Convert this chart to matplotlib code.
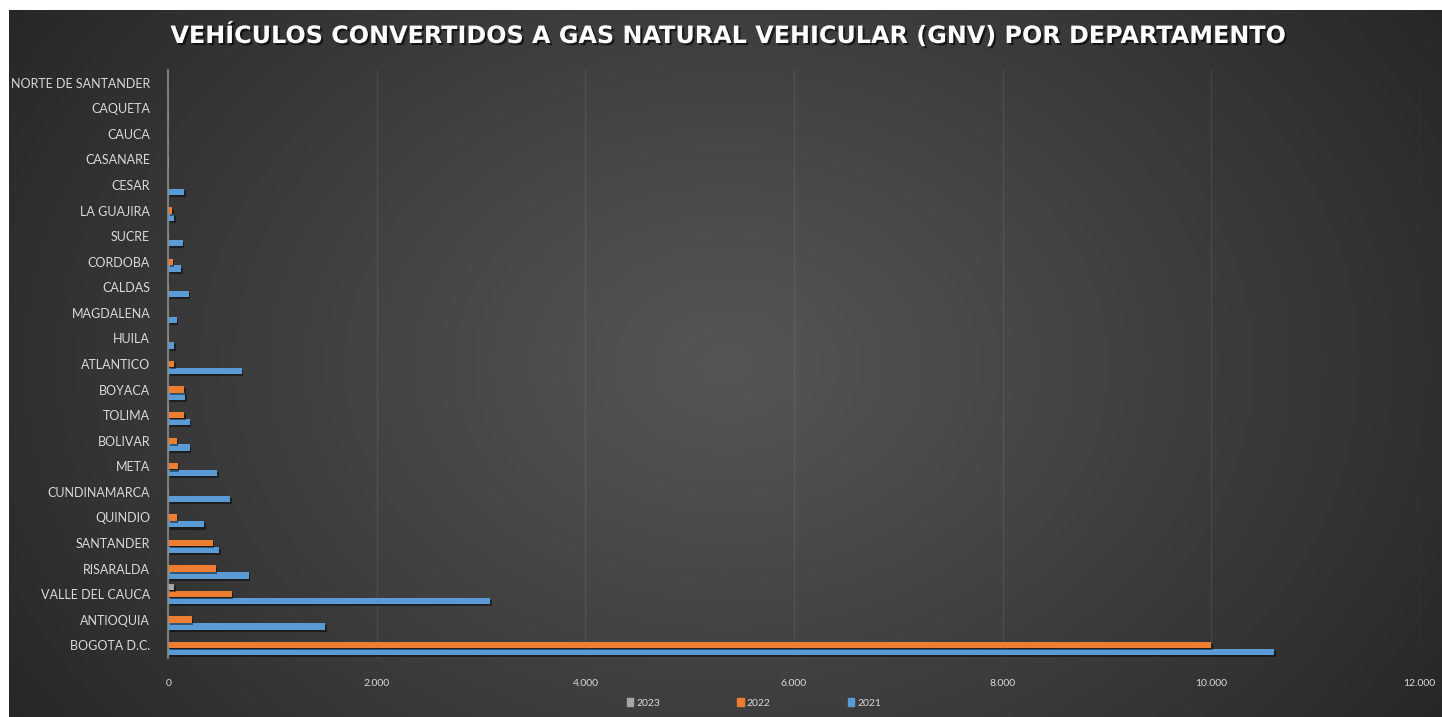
import numpy as np
import matplotlib
matplotlib.use("Agg")
import matplotlib.pyplot as plt
import matplotlib.patheffects as pe
from matplotlib.patches import Patch
from matplotlib.ticker import FuncFormatter

# ---- data (bottom to top as drawn) ----
categories = ["BOGOTA D.C.", "ANTIOQUIA", "VALLE DEL CAUCA", "RISARALDA", "SANTANDER",
              "QUINDIO", "CUNDINAMARCA", "META", "BOLIVAR", "TOLIMA", "BOYACA",
              "ATLANTICO", "HUILA", "MAGDALENA", "CALDAS", "CORDOBA", "SUCRE",
              "LA GUAJIRA", "CESAR", "CASANARE", "CAUCA", "CAQUETA", "NORTE DE SANTANDER"]
v2021 = [10605, 1504, 3087, 772, 487, 343, 595, 470, 205, 205, 163,
         704, 55, 80, 196, 122, 138, 55, 150, 3, 3, 3, 0]
v2022 = [10000, 225, 608, 455, 426, 80, 5, 90, 80, 150, 150,
         55, 4, 4, 5, 42, 5, 35, 5, 5, 0, 0, 0]
v2023 = [0, 0, 55, 0, 0, 0, 0, 0, 0, 3, 0,
         0, 0, 0, 0, 0, 0, 0, 0, 0, 0, 0, 0]
series_names = ["2023", "2022", "2021"]
xticks = [0, 2000, 4000, 6000, 8000, 10000, 12000]

C21, C22, C23 = "#5B9BD5", "#ED7D31", "#A5A5A5"
LABEL_FONT = ["Lato", "DejaVu Sans"]
W, H = 1442, 717
fig = plt.figure(figsize=(W / 100, H / 100), dpi=100, facecolor="white")

# background radial gradient
bg = fig.add_axes([9 / W, 0, 1 - 9 / W, (H - 10) / H])
bg.set_axis_off()
ny, nx = 300, 600
yy, xx = np.mgrid[0:ny, 0:nx]
cx, cy = nx * 0.50, ny * 0.50
r = np.sqrt(((xx - cx) / (nx * 0.62)) ** 2 + ((yy - cy) / (ny * 0.95)) ** 2)
r = np.clip(r, 0, 1)
inner, outer = 0x55, 0x25
val = (inner + (outer - inner) * r ** 1.1) / 255.0
img = np.dstack([val, val, val])
bg.imshow(img, aspect="auto", extent=[0, 1, 0, 1], interpolation="bilinear")
bg.set_xlim(0, 1); bg.set_ylim(0, 1)

ax = fig.add_axes([168.3 / W, 59 / H, 1251.4 / W, 588 / H])
ax.set_facecolor("none")
y = np.arange(len(categories))
h = 0.25
off = 0.27
shadow = [pe.withSimplePatchShadow(offset=(1.2, -1.5), shadow_rgbFace="black", alpha=0.45)]
ax.barh(y - off, v2021, height=h, color=C21, path_effects=shadow, zorder=3)
ax.barh(y, v2022, height=h, color=C22, path_effects=shadow, zorder=3)
ax.barh(y + off, v2023, height=h, color=C23, path_effects=shadow, zorder=3)

ax.set_ylim(-0.5, len(categories) - 0.5)
ax.set_xlim(0, 12000)
ax.set_xticks(xticks)
ax.xaxis.set_major_formatter(FuncFormatter(lambda v, p: f"{int(v):,}".replace(",", ".")))
ax.set_yticks(y)
ax.set_yticklabels(categories)
ax.grid(axis="x", color="#ffffff", alpha=0.08, linewidth=0.9, zorder=0)
for s in ["top", "right", "bottom"]:
    ax.spines[s].set_visible(False)
ax.spines["left"].set_color("#8a8a8a")
ax.spines["left"].set_linewidth(1.2)
ax.spines["left"].set_zorder(4)
ax.tick_params(axis="both", length=0)
ax.tick_params(axis="y", pad=13, labelsize=9, labelcolor="#D9D9D9")
ax.tick_params(axis="x", pad=15, labelsize=7.5, labelcolor="#D9D9D9")
for lab in ax.get_yticklabels() + ax.get_xticklabels():
    lab.set_family(LABEL_FONT)

fig.text(0.5 * (172 + 1288) / W, 1 - 35 / H,
         "VEHÍCULOS CONVERTIDOS A GAS NATURAL VEHICULAR (GNV) POR DEPARTAMENTO",
         ha="center", va="center", color="white", fontsize=17.2, fontweight="bold",
         family="DejaVu Sans",
         path_effects=[pe.withSimplePatchShadow(offset=(1.5, -1.5), shadow_rgbFace="black", alpha=0.6)])

handles = [Patch(color=C23), Patch(color=C22), Patch(color=C21)]
leg = fig.legend(handles, series_names, loc="center", bbox_to_anchor=(754 / W, 1 - 703 / H),
                 ncol=3, frameon=False, handlelength=0.6, handleheight=0.8,
                 handletextpad=0.3, columnspacing=7.4,
                 prop={"family": LABEL_FONT, "size": 7.5})
for t in leg.get_texts():
    t.set_color("#D9D9D9")

fig.savefig("out.png", dpi=100, facecolor="white")
